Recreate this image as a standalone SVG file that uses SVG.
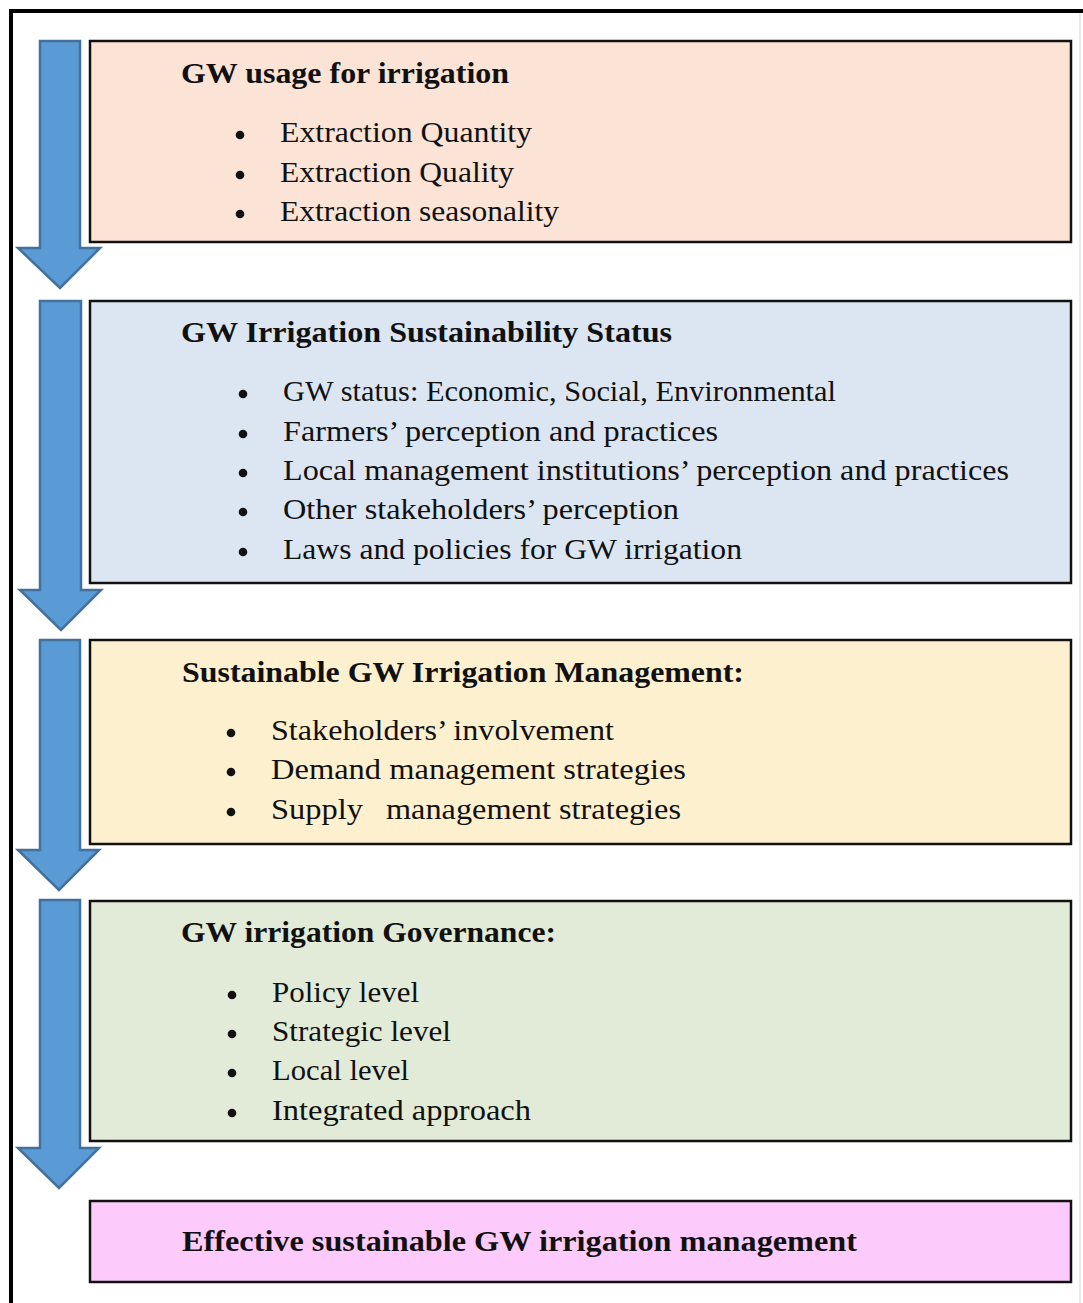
<svg xmlns="http://www.w3.org/2000/svg" width="1083" height="1303" viewBox="0 0 1083 1303">
<style>
.box{stroke:#111;stroke-width:2.5}
.arrow{fill:#5b9bd5;stroke:#41719c;stroke-width:2.5;stroke-linejoin:miter}
.t{font-family:"Liberation Serif","DejaVu Serif",serif;font-weight:bold;font-size:30px;fill:#111}
.b{font-family:"Liberation Serif","DejaVu Serif",serif;font-size:29px;fill:#111}
.dot{fill:#111}
</style>
<rect x="0" y="0" width="1083" height="1303" fill="#fff"/>
<path d="M11,1303 V11 H1083" fill="none" stroke="#000" stroke-width="4"/>
<line x1="1080" y1="13" x2="1080" y2="1303" stroke="#e2e2e2" stroke-width="1.5"/>
<g id="connectors">
<path class="arrow" d="M40,41 H80 V248 H100 L60,288 L18,248 H40 Z"/>
<path class="arrow" d="M40,301 H81 V590 H101 L61,630 L20,590 H40 Z"/>
<path class="arrow" d="M40,640 H80 V850 H99 L59,890 L18,850 H40 Z"/>
<path class="arrow" d="M40,900 H80 V1148 H99 L59,1188 L18,1148 H40 Z"/>
</g>
<g id="node1">
<rect class="box" x="90" y="41" width="981" height="201" fill="#fbe3d6"/>
<text class="t" x="181" y="83" textLength="328" lengthAdjust="spacingAndGlyphs">GW usage for irrigation</text>
<circle class="dot" cx="240" cy="135" r="4.3"/><text class="b" x="280" y="142" textLength="252" lengthAdjust="spacingAndGlyphs">Extraction Quantity</text>
<circle class="dot" cx="240" cy="175" r="4.3"/><text class="b" x="280" y="182" textLength="234" lengthAdjust="spacingAndGlyphs">Extraction Quality</text>
<circle class="dot" cx="240" cy="214" r="4.3"/><text class="b" x="280" y="221" textLength="279" lengthAdjust="spacingAndGlyphs">Extraction seasonality</text>
</g>
<g id="node2">
<rect class="box" x="90" y="301" width="981" height="282" fill="#dce6f2"/>
<text class="t" x="181" y="342" textLength="491" lengthAdjust="spacingAndGlyphs">GW Irrigation Sustainability Status</text>
<circle class="dot" cx="243" cy="394" r="4.3"/><text class="b" x="283" y="401" textLength="553" lengthAdjust="spacingAndGlyphs">GW status: Economic, Social, Environmental</text>
<circle class="dot" cx="243" cy="434" r="4.3"/><text class="b" x="283" y="441" textLength="435" lengthAdjust="spacingAndGlyphs">Farmers’ perception and practices</text>
<circle class="dot" cx="243" cy="473" r="4.3"/><text class="b" x="283" y="480" textLength="726" lengthAdjust="spacingAndGlyphs">Local management institutions’ perception and practices</text>
<circle class="dot" cx="243" cy="512" r="4.3"/><text class="b" x="283" y="519" textLength="396" lengthAdjust="spacingAndGlyphs">Other stakeholders’ perception</text>
<circle class="dot" cx="243" cy="552" r="4.3"/><text class="b" x="283" y="559" textLength="459" lengthAdjust="spacingAndGlyphs">Laws and policies for GW irrigation</text>
</g>
<g id="node3">
<rect class="box" x="90" y="640" width="981" height="204" fill="#fdf0cf"/>
<text class="t" x="182" y="682" textLength="562" lengthAdjust="spacingAndGlyphs">Sustainable GW Irrigation Management:</text>
<circle class="dot" cx="231" cy="733" r="4.3"/><text class="b" x="271" y="740" textLength="343" lengthAdjust="spacingAndGlyphs">Stakeholders’ involvement</text>
<circle class="dot" cx="231" cy="772" r="4.3"/><text class="b" x="271" y="779" textLength="415" lengthAdjust="spacingAndGlyphs">Demand management strategies</text>
<circle class="dot" cx="231" cy="812" r="4.3"/><text class="b" x="271" y="819" textLength="92" lengthAdjust="spacingAndGlyphs">Supply</text><text class="b" x="386" y="819" textLength="295" lengthAdjust="spacingAndGlyphs">management strategies</text>
</g>
<g id="node4">
<rect class="box" x="90" y="901" width="981" height="240" fill="#e2ebd8"/>
<text class="t" x="181" y="942" textLength="375" lengthAdjust="spacingAndGlyphs">GW irrigation Governance:</text>
<circle class="dot" cx="232" cy="995" r="4.3"/><text class="b" x="272" y="1002" textLength="147" lengthAdjust="spacingAndGlyphs">Policy level</text>
<circle class="dot" cx="232" cy="1034" r="4.3"/><text class="b" x="272" y="1041" textLength="179" lengthAdjust="spacingAndGlyphs">Strategic level</text>
<circle class="dot" cx="232" cy="1073" r="4.3"/><text class="b" x="272" y="1080" textLength="137" lengthAdjust="spacingAndGlyphs">Local level</text>
<circle class="dot" cx="232" cy="1113" r="4.3"/><text class="b" x="272" y="1120" textLength="259" lengthAdjust="spacingAndGlyphs">Integrated approach</text>
</g>
<g id="node5">
<rect class="box" x="90" y="1201" width="981" height="81" fill="#fccbfb"/>
<text class="t" x="182" y="1251" textLength="675" lengthAdjust="spacingAndGlyphs">Effective sustainable GW irrigation management</text>
</g>
</svg>
